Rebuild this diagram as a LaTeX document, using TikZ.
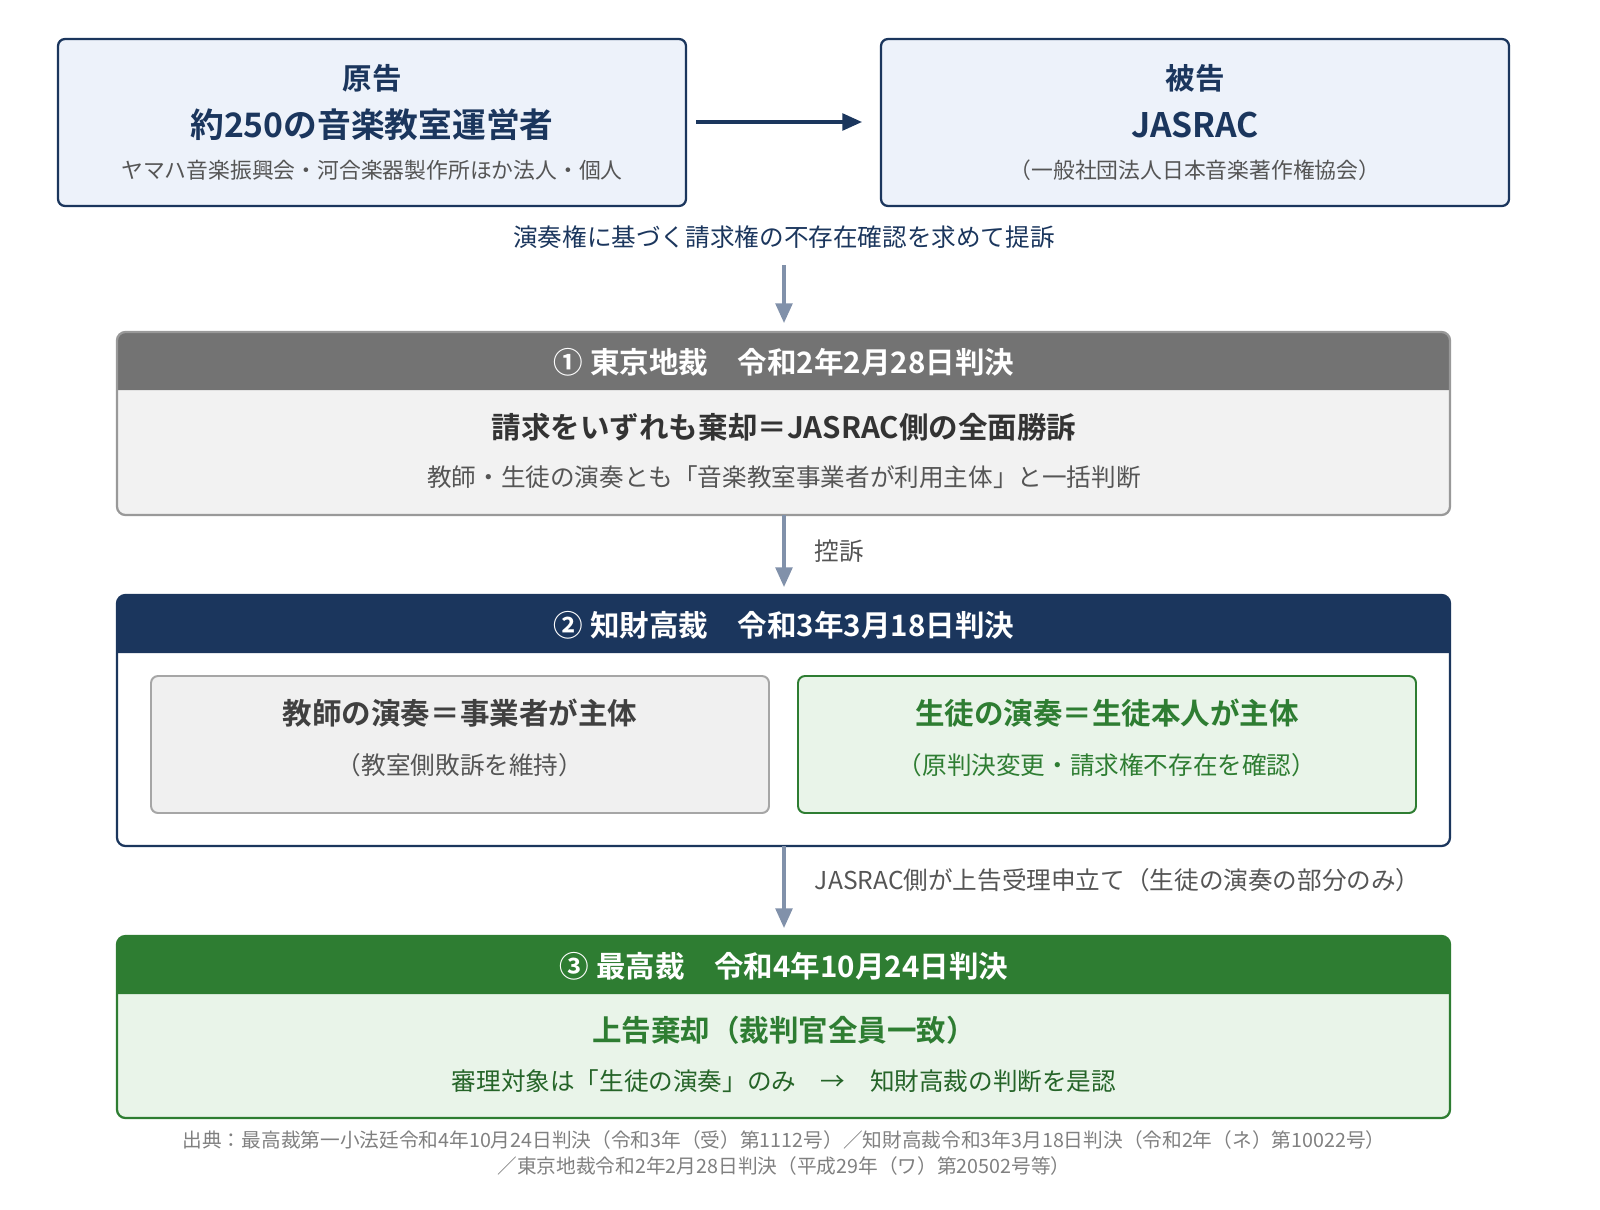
\documentclass[tikz,border=0pt]{standalone}
\usepackage{fontspec}
\setmainfont{Noto Sans CJK JP}[BoldFont={Noto Sans CJK JP Bold}]
\usetikzlibrary{positioning, arrows.meta}
\definecolor{navy}{HTML}{1B365D}
\definecolor{paleblue}{HTML}{EDF2FA}
\definecolor{flowgray}{HTML}{8191AA}
\definecolor{hdrgray}{HTML}{737373}
\definecolor{bodygray}{HTML}{F2F2F2}
\definecolor{ingreen}{HTML}{2E7D32}
\definecolor{palegreen}{HTML}{E9F4E9}
\definecolor{txtgray}{HTML}{555555}
\newcommand{\fsz}[1]{\fontsize{#1}{#1}\selectfont}
\tikzset{
    party/.style = {draw = navy, line width = 1.6pt, fill = paleblue, rounded corners = 5pt},
    flow/.style = {-{Triangle[length=14pt, width=12pt]}, draw = flowgray, line width = 2.2pt},
    hdr/.style = {text = white, font = \fsz{21pt}\bfseries},
    title/.style = {font = \fsz{21pt}\bfseries},
    sub/.style = {font = \fsz{15.5pt}},
    body/.style = {font = \fsz{17.5pt}}
}
\begin{document}
\begin{tikzpicture}[x=0.025cm, y=-0.025cm]
    \useasboundingbox (0,0) rectangle (1600,1210);

    % Parties
    \draw[party] (58,39) rectangle (686,206);
    \draw[party] (881,39) rectangle (1509,206);
    \node[title, text = navy] (pl) at (372,78) {原告};
    \node[font = \fsz{24pt}\bfseries, text = navy] (plname) at (372,125) {約250の音楽教室運営者};
    \node[sub, text = txtgray] (plsub) at (372,170) {ヤマハ音楽振興会・河合楽器製作所ほか法人・個人};
    \node[title, text = navy] (df) at (1195,78) {被告};
    \node[font = \fsz{24pt}\bfseries, text = navy] (dfname) at (1195,125) {JASRAC};
    \node[sub, text = txtgray] (dfsub) at (1195,170) {（一般社団法人日本音楽著作権協会）};
    \coordinate (a1) at (696,122);
    \coordinate (a2) at (862,122);
    \draw[-{Triangle[length=14pt, width=12pt]}, navy, line width = 2.2pt] (a1) -- (a2);
    \node[body, text = navy] (suit) at (784,237) {演奏権に基づく請求権の不存在確認を求めて提訴};

    % Step 1
    \fill[bodygray, rounded corners = 6pt] (117,332) rectangle (1450,515);
    \fill[hdrgray, rounded corners = 6pt] (117,390) -- (117,332) -- (1450,332) -- (1450,390);
    \draw[draw = gray!80, line width = 1.6pt, rounded corners = 6pt] (117,332) rectangle (1450,515);
    \node[hdr] (h1) at (784,362) {① 東京地裁　令和2年2月28日判決};
    \node[title, text = black!80] (r1) at (784,427) {請求をいずれも棄却＝JASRAC側の全面勝訴};
    \node[body, text = txtgray] (n1) at (784,477) {教師・生徒の演奏とも「音楽教室事業者が利用主体」と一括判断};

    % Step 2
    \fill[white, rounded corners = 6pt] (117,595) rectangle (1450,846);
    \fill[navy, rounded corners = 6pt] (117,653) -- (117,595) -- (1450,595) -- (1450,653);
    \draw[draw = navy, line width = 1.6pt, rounded corners = 6pt] (117,595) rectangle (1450,846);
    \node[hdr] (h2) at (784,625) {② 知財高裁　令和3年3月18日判決};
    \draw[draw = gray!70, fill = black!6, line width = 1.4pt, rounded corners = 5pt] (151,676) rectangle (769,813);
    \draw[draw = ingreen, fill = palegreen, line width = 1.4pt, rounded corners = 5pt] (798,676) rectangle (1416,813);
    \node[title, text = black!75] (t2) at (460,713) {教師の演奏＝事業者が主体};
    \node[body, text = txtgray] (t2s) at (460,765) {（教室側敗訴を維持）};
    \node[title, text = ingreen] (s2) at (1107,713) {生徒の演奏＝生徒本人が主体};
    \node[body, text = ingreen] (s2s) at (1107,765) {（原判決変更・請求権不存在を確認）};

    % Step 3
    \fill[palegreen, rounded corners = 6pt] (117,936) rectangle (1450,1118);
    \fill[ingreen, rounded corners = 6pt] (117,994) -- (117,936) -- (1450,936) -- (1450,994);
    \draw[draw = ingreen, line width = 1.6pt, rounded corners = 6pt] (117,936) rectangle (1450,1118);
    \node[hdr] (h3) at (784,966) {③ 最高裁　令和4年10月24日判決};
    \node[title, text = ingreen] (r3) at (784,1030) {上告棄却（裁判官全員一致）};
    \node[body, text = ingreen!80!black] (n3) at (784,1081) {審理対象は「生徒の演奏」のみ　→　知財高裁の判断を是認};

    % Flow arrows
    \coordinate (f0) at (784,265);
    \coordinate (f1) at (784,323);
    \coordinate (g0) at (784,515);
    \coordinate (g1) at (784,587);
    \coordinate (k0) at (784,846);
    \coordinate (k1) at (784,928);
    \draw[flow] (f0) -- (f1);
    \draw[flow] (g0) -- (g1);
    \draw[flow] (k0) -- (k1);
    \node[body, text = txtgray, anchor = west] (appeal) at (810,551) {控訴};
    \node[body, text = txtgray, anchor = west] (petition) at (810,880) {JASRAC側が上告受理申立て（生徒の演奏の部分のみ）};

    % Source
    \node[font = \fsz{14pt}, text = gray, align = center] (src) at (784,1153)
        {出典：最高裁第一小法廷令和4年10月24日判決（令和3年（受）第1112号）／知財高裁令和3年3月18日判決（令和2年（ネ）第10022号）\\[4pt]／東京地裁令和2年2月28日判決（平成29年（ワ）第20502号等）};
\end{tikzpicture}
\end{document}
